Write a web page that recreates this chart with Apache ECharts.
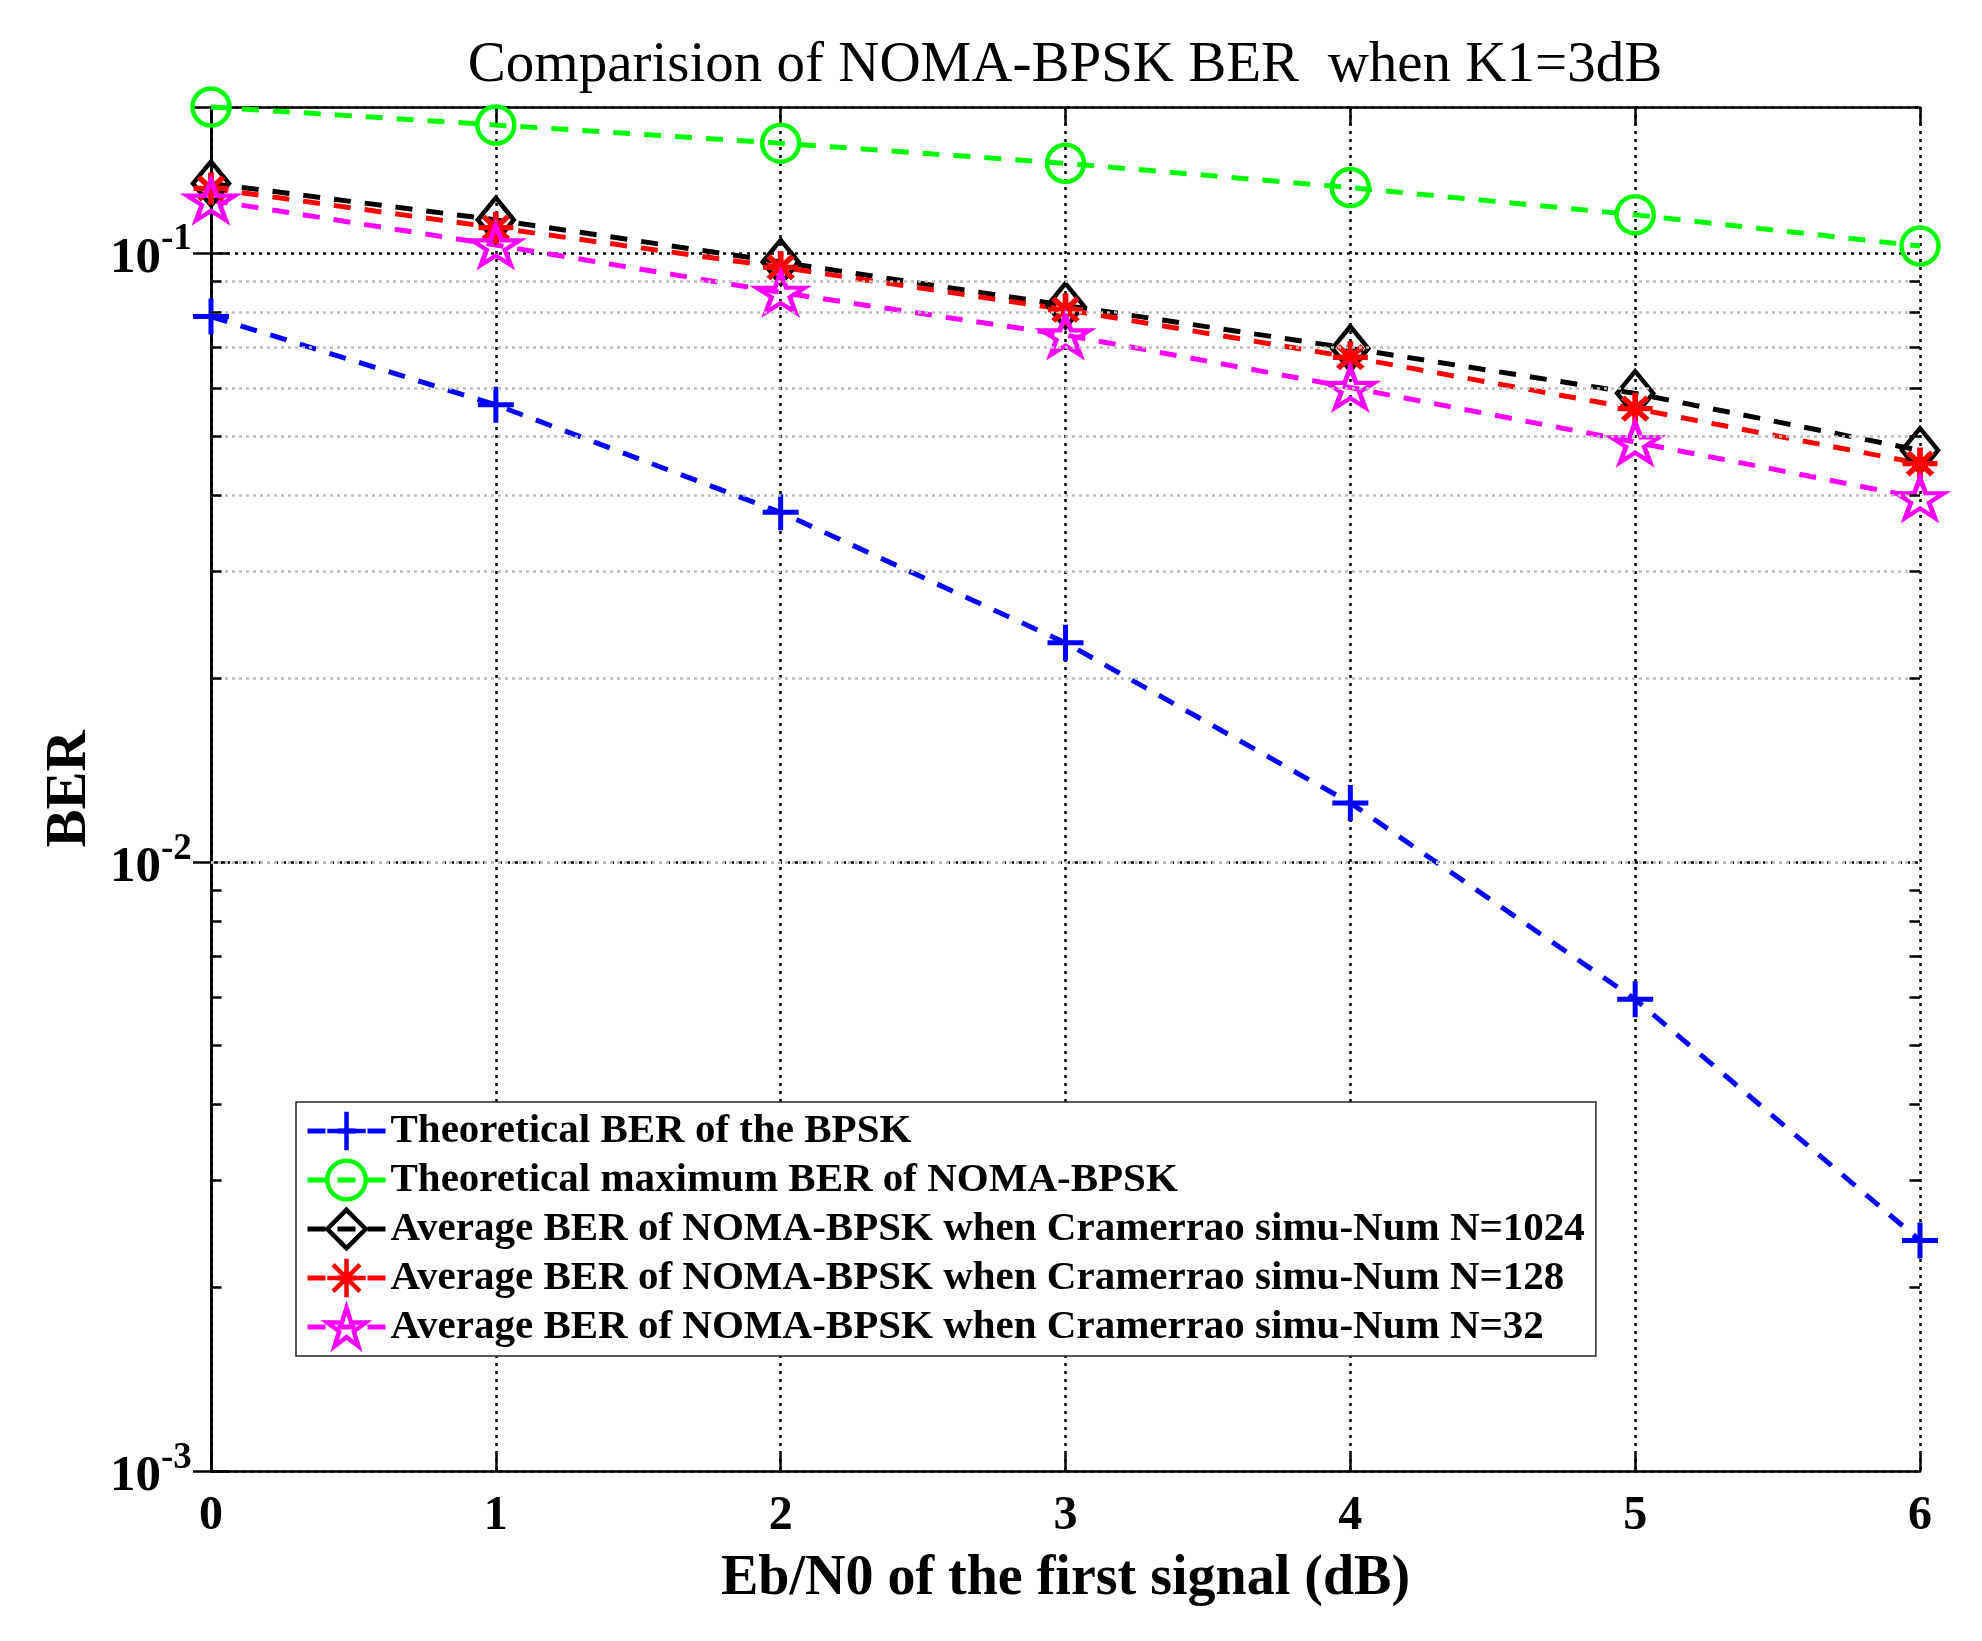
<!DOCTYPE html>
<html lang="en">
<head>
  <meta charset="UTF-8">
  <title>NOMA-BPSK BER</title>
  <style>
    * { margin: 0; padding: 0; }
    html, body { width: 1982px; height: 1641px; background: #fff; }
    #chart { width: 1982px; height: 1641px; }
  </style>
</head>
<body>
  <div id="chart"></div>
  <script src="https://cdn.jsdelivr.net/npm/echarts@6/dist/echarts.min.js"></script>
  <script>
    // Eb/N0 (dB)
    const snr = [0, 1, 2, 3, 4, 5, 6];
    const berBpsk = [0.0786, 0.0563, 0.0375, 0.0229, 0.0125, 0.00595, 0.00239];
    const berMax = [0.1736, 0.1622, 0.1514, 0.1403, 0.128, 0.1155, 0.1026];
    const berN1024 = [0.130, 0.1133, 0.0966, 0.0820, 0.0697, 0.0588, 0.0474];
    const berN128 = [0.1276, 0.110, 0.0947, 0.0807, 0.0674, 0.0555, 0.0451];
    const berN32 = [0.122, 0.103, 0.0861, 0.0733, 0.0601, 0.0489, 0.0396];
    const names = [
      'Theoretical BER of the BPSK',
      'Theoretical maximum BER of NOMA-BPSK',
      'Average BER of NOMA-BPSK when Cramerrao simu-Num N=1024',
      'Average BER of NOMA-BPSK when Cramerrao simu-Num N=128',
      'Average BER of NOMA-BPSK when Cramerrao simu-Num N=32'
    ];
    // minor log grid values
    const minorY = [0.002, 0.003, 0.004, 0.005, 0.006, 0.007, 0.008, 0.009,
                    0.02, 0.03, 0.04, 0.05, 0.06, 0.07, 0.08, 0.09];
    const yMin = 0.001, yMax = 0.1736;

    const font = '"Times New Roman", "Liberation Serif", serif';
    const plusPath = 'path://M10,0V20M0,10H20';
    const starPath = 'path://M10,0V20M0,10H20M3,3L17,17M17,3L3,17';
    const pentaPath = 'path://M100,0L122.45,69.1L195.1,69.1L136.3,111.8L158.8,180.9L100,138.2L41.2,180.9L63.7,111.8L4.9,69.1L77.55,69.1Z';

    function pairs(ys) {
      return snr.map((x, i) => [x, ys[i]]);
    }

    function makeSeries(name, ys, color, symbol, size, bw) {
      return {
        name: name,
        type: 'line',
        data: pairs(ys),
        z: 3,
        clip: false,
        symbol: symbol,
        symbolSize: size,
        showSymbol: true,
        lineStyle: { color: color, width: 5, type: [17, 14] },
        itemStyle: { color: 'transparent', borderColor: color, borderWidth: bw },
        emphasis: { disabled: true }
      };
    }

    // grid lines and minor ticks through the axis scale
    const markData = [];
    minorY.forEach(v => {
      markData.push({ yAxis: v, lineStyle: { color: '#bdbdbd', width: 2.5, type: [3, 4] } });
      markData.push([{ coord: [0, v], lineStyle: { color: '#000', width: 2.5, type: 'solid' } }, { coord: [0.037, v] }]);
      markData.push([{ coord: [5.963, v], lineStyle: { color: '#000', width: 2.5, type: 'solid' } }, { coord: [6, v] }]);
    });

    const chart = echarts.init(document.getElementById('chart'));
    chart.setOption({
      animation: false,
      backgroundColor: '#fff',
      graphic: [{
        type: 'text',
        x: 1065,
        y: 66,
        style: {
          text: 'Comparision of NOMA-BPSK BER  when K1=3dB',
          font: 'normal 57px ' + font,
          textAlign: 'center',
          textVerticalAlign: 'middle',
          align: 'center',
          verticalAlign: 'middle',
          fill: '#000'
        }
      }],
      grid: { left: 211, top: 107, right: 62, bottom: 170, show: false },
      legend: {
        data: names,
        orient: 'vertical',
        left: 296,
        top: 1102,
        itemWidth: 78,
        itemHeight: 48,
        itemGap: 1,
        padding: [5, 11, 5, 9],
        borderColor: '#262626',
        borderWidth: 1.5,
        backgroundColor: '#fff',
        itemStyle: { borderWidth: 4.5 },
        lineStyle: { width: 5, type: [18, 12] },
        textStyle: { fontSize: 41, fontWeight: 'bold', fontFamily: font, color: '#000', lineHeight: 48 }
      },
      xAxis: [{
        type: 'value',
        min: 0,
        max: 6,
        interval: 1,
        name: 'Eb/N0 of the first signal (dB)',
        nameLocation: 'middle',
        nameGap: 81,
        nameTextStyle: { fontSize: 56, fontWeight: 'bold', fontFamily: font, color: '#000' },
        axisLine: { lineStyle: { color: '#000', width: 2.5 } },
        axisTick: { inside: true, length: 18, lineStyle: { color: '#000', width: 2.5 } },
        axisLabel: { margin: 22, fontSize: 48, fontWeight: 'bold', fontFamily: font, color: '#000' },
        splitLine: { show: true, lineStyle: { color: '#000', width: 2.5, type: [3, 5] } }
      }, {
        type: 'value',
        position: 'top',
        min: 0,
        max: 6,
        interval: 1,
        axisLine: { lineStyle: { color: '#000', width: 2.5 } },
        axisTick: { inside: true, length: 18, lineStyle: { color: '#000', width: 2.5 } },
        axisLabel: { show: false },
        splitLine: { show: false }
      }],
      yAxis: [{
        type: 'log',
        logBase: 10,
        min: yMin,
        max: yMax,
        name: 'BER',
        nameLocation: 'middle',
        nameRotate: 90,
        nameGap: 109,
        nameTextStyle: { fontSize: 57, fontWeight: 'bold', fontFamily: font, color: '#000' },
        axisLine: { show: true, lineStyle: { color: '#000', width: 2.5 } },
        axisTick: { inside: true, length: 18, lineStyle: { color: '#000', width: 2.5 } },
        axisLabel: {
          margin: 19,
          showMaxLabel: false,
          formatter: function (v) {
            const e = Math.log10(v);
            const r = Math.round(e);
            if (Math.abs(e - r) > 1e-6) return '';
            return '{b|10}{s|' + r + '}{h| }';
          },
          rich: {
            b: { fontSize: 51, fontWeight: 'bold', fontFamily: font, color: '#000', lineHeight: 50, verticalAlign: 'bottom' },
            s: { fontSize: 37, fontWeight: 'bold', fontFamily: font, color: '#000', lineHeight: 37, verticalAlign: 'top' },
            h: { fontSize: 1, lineHeight: 63 }
          }
        },
        splitLine: { show: true, lineStyle: { color: '#000', width: 2.5, type: [3, 5] } }
      }, {
        type: 'log',
        logBase: 10,
        position: 'right',
        min: yMin,
        max: yMax,
        axisLine: { show: true, lineStyle: { color: '#000', width: 2.5 } },
        axisTick: { inside: true, length: 18, lineStyle: { color: '#000', width: 2.5 } },
        axisLabel: { show: false },
        splitLine: { show: false }
      }],
      series: [
        {
          name: 'grid',
          type: 'line',
          data: [],
          z: 1,
          silent: true,
          markLine: {
            silent: true,
            symbol: ['none', 'none'],
            label: { show: false },
            data: markData
          }
        },
        makeSeries(names[0], berBpsk, '#0000ff', plusPath, 36, 5),
        makeSeries(names[1], berMax, '#00ff00', 'circle', 37, 4.5),
        makeSeries(names[2], berN1024, '#000000', 'diamond', [36, 44], 4.5),
        makeSeries(names[3], berN128, '#ff0000', starPath, [35, 32], 5.5),
        makeSeries(names[4], berN32, '#ff00ff', pentaPath, [48, 40], 4.5)
      ]
    });
  </script>
</body>
</html>
